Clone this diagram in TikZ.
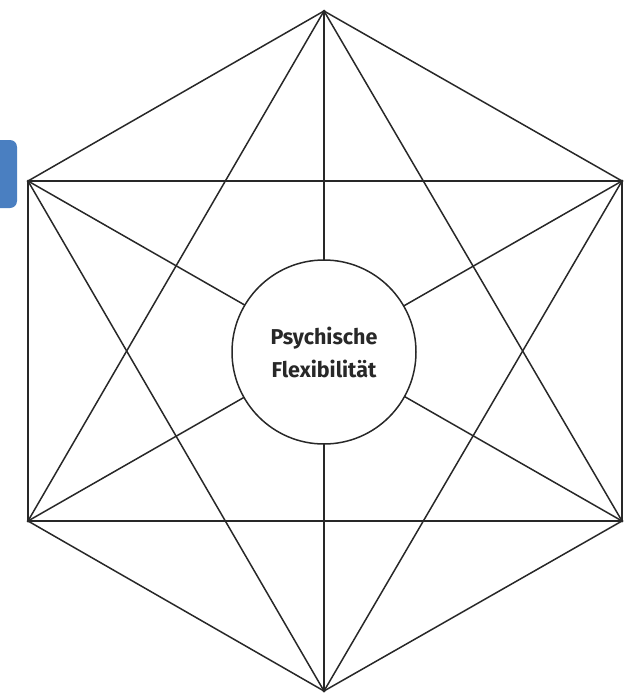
\documentclass[tikz,border=0pt]{standalone}
\usepackage{fontspec}
\setsansfont{Fira Sans}
\usepackage{tikz}
\usetikzlibrary{positioning,calc}
\definecolor{edgegray}{RGB}{40,40,40}
\definecolor{tabblue}{RGB}{74,127,193}

\begin{document}
\begin{tikzpicture}[x=1pt,y=-1pt,
  edge/.style={draw=edgegray,line width=1.5pt},
  corner/.style={circle,fill=edgegray,inner sep=0pt,minimum size=3pt},
  centre/.style={circle,draw=edgegray,line width=1.5pt,fill=white,minimum size=184pt,
    font=\sffamily\bfseries\fontsize{21.5}{33}\selectfont,align=center,text=edgegray}
]
  \useasboundingbox (0,0) rectangle (626,699);

  % side tab
  \fill[tabblue,rounded corners=7pt] (-20,140) rectangle (17,208);

  % corners of the hexagon
  \node[corner] (top) at (324,11) {};
  \node[corner] (ul) at (28,181) {};
  \node[corner] (ur) at (622,181) {};
  \node[corner] (ll) at (28,521) {};
  \node[corner] (lr) at (622,521) {};
  \node[corner] (bot) at (324,691) {};

  % every pair of corners
  \foreach \a/\b in {top/ul,top/ur,top/ll,top/lr,top/bot,
                     ul/ur,ul/ll,ul/lr,ul/bot,
                     ur/ll,ur/lr,ur/bot,
                     ll/lr,ll/bot,lr/bot}
    \draw[edge] (\a.center) -- (\b.center);

  % middle
  \node[centre] (flex) at (324,352) {Psychische\\Flexibilität};
\end{tikzpicture}
\end{document}
